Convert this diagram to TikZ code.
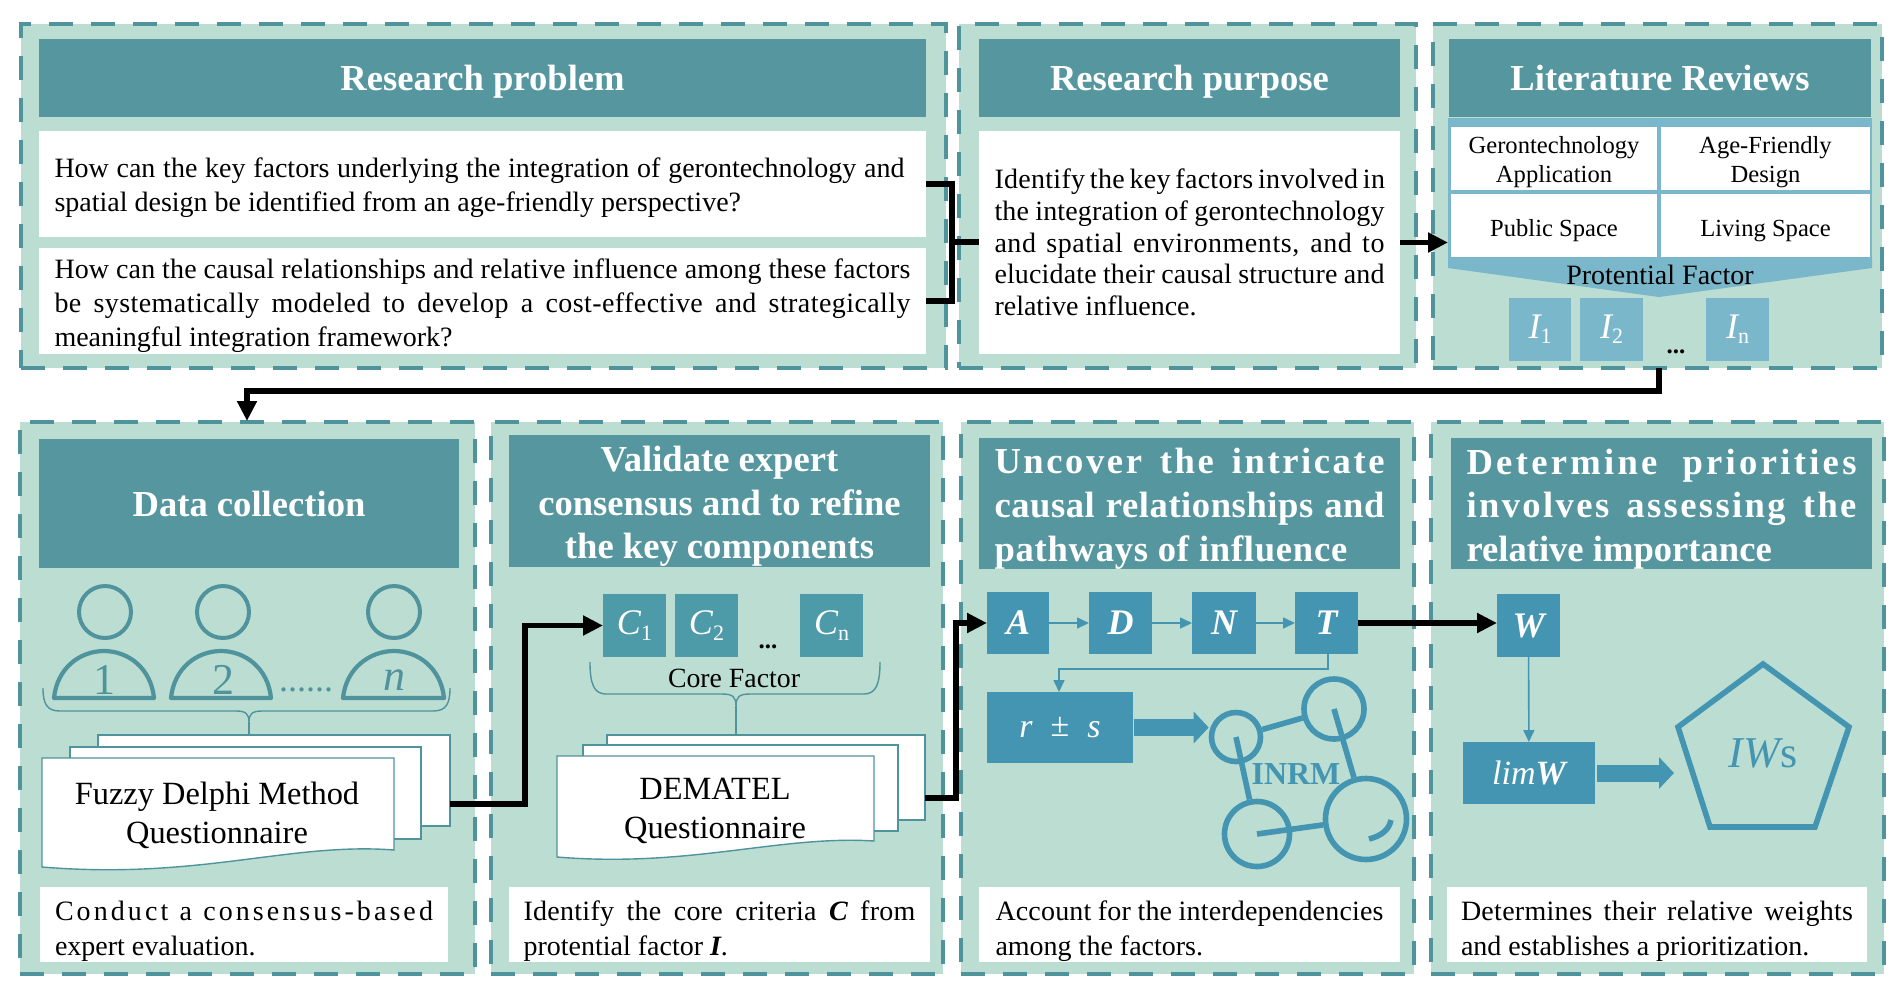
\documentclass[tikz,border=0pt]{standalone}
\usepackage{fontspec}
\setmainfont{Liberation Serif}
\usetikzlibrary{arrows.meta}
\definecolor{panelfill}{HTML}{BCDDD2}
\definecolor{teal1}{HTML}{55969F}
\definecolor{dashc}{HTML}{4F939C}
\definecolor{cbox}{HTML}{4D9AA8}
\definecolor{blue1}{HTML}{4495B1}
\definecolor{lblue}{HTML}{7AB7CA}
\newcommand\boxat[7][]{\node[inner sep=0pt,outer sep=0pt,minimum width={(#5-#3)*.5pt},minimum height={(#6-#4)*.5pt},#1] (#2) at ({(#3+#5)/2},{(#4+#6)/2}) {#7};}
\newcommand\jl[2]{\makebox[#1pt][s]{#2}}
\newcommand\ls[2]{{\addfontfeature{LetterSpace=#1}#2}}
\newcommand\up[1]{\rule{0pt}{#1pt}}
\newcommand\subt[2]{{\itshape #1}\raisebox{-.32ex}{\fontsize{11}{11}\selectfont #2}}
\tikzset{
  panel/.style={fill=panelfill,draw=dashc,line width=2.1pt,dash pattern=on 12pt off 9pt},
  head/.style={fill=teal1,text=white,align=center,font=\fontsize{18.3}{21.8}\selectfont\bfseries},
  bodybox/.style={fill=white,text=black,align=left,font=\fontsize{14}{17}\selectfont},
  gridcell/.style={fill=white,text=black,align=center,font=\fontsize{12.3}{14.5}\selectfont},
  cfac/.style={fill=cbox,text=white,font=\fontsize{18}{20}\selectfont},
  ifac/.style={fill=lblue,text=white,font=\fontsize{18}{20}\selectfont},
  mbox/.style={fill=blue1,text=white,font=\fontsize{18}{20}\selectfont\bfseries\itshape},
  flow/.style={draw=black,line width=2.8pt,-{Triangle[length=10pt,width=9.5pt]}},
  flowplain/.style={draw=black,line width=2.8pt},
  thinar/.style={draw=blue1,line width=.8pt,-{Triangle[length=6pt,width=5.5pt]}},
  blockar/.style={draw=blue1,line width=8.5pt,-{Triangle[length=7.5pt,width=15.5pt]}},
  person/.style={draw=dashc,line width=2pt,circle,minimum size=26pt,inner sep=0pt},
  dome/.style={draw=dashc,line width=2.1pt,line join=round},
  brace/.style={draw=dashc,line width=.7pt},
  sheet/.style={fill=white,draw=dashc,line width=.7pt},
  netc/.style={draw=blue1,line width=2.8pt,circle,inner sep=0pt},
  netl/.style={draw=blue1,line width=2.8pt},
  doctext/.style={font=\fontsize{16.2}{19.5}\selectfont,align=center,text=black},
  plain/.style={inner sep=0pt,text=black},
}
\begin{document}
\begin{tikzpicture}[x=.5pt,y=-.5pt]
\useasboundingbox (0,0) rectangle (1902,992);
% panels
\boxat[panel]{pa}{21}{24}{946}{368}{}
\boxat[panel]{pb}{959}{24}{1416}{368}{}
\boxat[panel]{pc}{1433}{24}{1882}{368}{}
\boxat[panel]{pd}{20}{422}{475}{974}{}
\boxat[panel]{pe}{491}{422}{943}{974}{}
\boxat[panel]{pf}{961}{422}{1414}{974}{}
\boxat[panel]{pg}{1431}{422}{1884}{974}{}
% headers
\boxat[head,text depth=0pt]{ha}{39}{39}{926}{117}{Research problem}
\boxat[head,text depth=0pt]{hb}{979}{39}{1400}{117}{Research purpose}
\boxat[head,text depth=0pt]{hc}{1449}{39}{1871}{117}{Literature Reviews}
\boxat[head]{hd}{39}{439}{459}{568}{Data collection}
\boxat[head]{he}{509}{437}{930}{565}{\up{18}Validate expert\\consensus and to refine\\the key components}
\boxat[head,align=left]{hf}{979}{439}{1400}{568}{\up{18}\jl{195}{\ls{7}{Uncover the intricate}}\\\jl{195}{\ls{1.5}{causal relationships and}}\\\ls{2}{pathways of influence}}
\boxat[head,align=left]{hg}{1451}{439}{1872}{568}{\up{18}\jl{195}{\ls{9}{Determine priorities}}\\\jl{195}{\ls{6.5}{involves assessing the}}\\relative importance}
% top white boxes
\boxat[bodybox]{qa}{39}{131}{926}{237}{\up{13.2}\jl{425}{How can the key factors underlying the integration of gerontechnology and}\hspace*{3pt}\\spatial design be identified from an age-friendly perspective?}
\boxat[bodybox]{qb}{39}{248}{926}{354}{\up{14.3}\jl{428}{\ls{.5}{How can the causal relationships and relative influence among these factors}}\\\jl{428}{\ls{1.5}{be systematically modeled to develop a cost-effective and strategically}}\\meaningful integration framework?}
\boxat[bodybox,font=\fontsize{14}{15.8}\selectfont]{pur}{979}{131}{1400}{354}{\jl{195}{\ls{1}{Identify the key factors involved in}}\\\jl{195}{\ls{.5}{the integration of gerontechnology}}\\\jl{195}{\ls{2}{and spatial environments, and to}}\\\jl{195}{\ls{.5}{elucidate their causal structure and}}\\relative influence.}
% literature grid
\boxat[fill=lblue]{grid}{1448}{118}{1872}{258}{}
\boxat[gridcell]{g1}{1451}{127}{1657}{190}{\up{12}Gerontechnology\\Application}
\boxat[gridcell]{g2}{1661}{127}{1870}{190}{\up{12}Age-Friendly\\Design}
\boxat[gridcell]{g3}{1451}{194}{1657}{257}{\up{13.2}Public Space}
\boxat[gridcell]{g4}{1661}{194}{1870}{257}{\up{13.2}Living Space}
\fill[lblue] (1448,258) -- (1872,258) -- (1872,268) -- (1659,297) -- (1448,268) -- cycle;
\node[plain,font=\fontsize{14}{16}\selectfont] (pf1) at (1660,275) {Protential Factor};
\boxat[ifac]{i1}{1509}{298}{1571}{361}{\subt{I}{1}}
\boxat[ifac]{i2}{1580}{298}{1643}{361}{\subt{I}{2}}
\boxat[ifac]{in}{1706}{298}{1769}{361}{\subt{I}{n}}
\node[plain,font=\fontsize{12.5}{14}\selectfont\bfseries] (idots) at (1676,352) {...};
% people
\node[person] (pe1) at (105,612) {};
\node[person] (pe2) at (223,612) {};
\node[person] (pen) at (394,612) {};
\draw[dome] (54,698) .. controls (57,668) and (80,651) .. (104,651) .. controls (128,651) and (151,668) .. (154,698) -- cycle;
\draw[dome] (171,698) .. controls (174,668) and (197,651) .. (221,651) .. controls (245,651) and (268,668) .. (271,698) -- cycle;
\draw[dome] (343,698) .. controls (346,668) and (370,651) .. (394,651) .. controls (418,651) and (441,668) .. (444,698) -- cycle;
\node[plain,text=dashc,font=\fontsize{22}{22}\selectfont] (nu1) at (104,680) {1};
\node[plain,text=dashc,font=\fontsize{22}{22}\selectfont] (nu2) at (223,680) {2};
\node[plain,text=dashc,font=\fontsize{22}{22}\selectfont\itshape] (nun) at (394,680) {n};
\node[plain,text=dashc,font=\fontsize{18}{18}\selectfont] (pdots) at (306,690) {......};
\draw[brace] (43,688) .. controls (43,704) and (47,711) .. (60,711) -- (236,711) .. controls (246,711) and (249,714) .. (249,722) .. controls (249,714) and (252,711) .. (262,711) -- (433,711) .. controls (446,711) and (450,704) .. (450,688);
% docs 1
\draw[sheet] (98,735) rectangle (450,826);
\draw[sheet] (70,747) rectangle (421,839);
\draw[sheet] (42,758) -- (394,758) -- (394,850) .. controls (290,842) and (200,880) .. (42,867) -- cycle;
\coordinate (da) at (450,804);
\draw[brace] (249,722) -- (249,735);
\node[doctext] (dta) at (217,815.5) {Fuzzy Delphi Method\\Questionnaire};
\boxat[bodybox,font=\fontsize{14}{17.5}\selectfont]{ba}{40}{887}{448}{962}{\up{16.7}\jl{189}{\ls{11}{Conduct a consensus-based}}\\expert evaluation.}
% C panel
\boxat[cfac]{c1}{603}{594}{666}{657}{\subt{C}{1}}
\boxat[cfac]{c2}{675}{594}{738}{657}{\subt{C}{2}}
\boxat[cfac]{cn}{800}{594}{863}{657}{\subt{C}{n}}
\node[plain,font=\fontsize{12.5}{14}\selectfont\bfseries] (cdots) at (768,647) {...};
\node[plain,font=\fontsize{13.9}{16}\selectfont] (cf) at (734,678) {Core Factor};
\draw[brace] (590,662) .. controls (590,684) and (594,694) .. (606,694) -- (722,694) .. controls (733,694) and (736,697) .. (736,706) .. controls (736,697) and (739,694) .. (750,694) -- (864,694) .. controls (876,694) and (880,684) .. (880,662);
\draw[brace] (736,706) -- (736,735);
\draw[sheet] (607,735) rectangle (925,820);
\draw[sheet] (583,745) rectangle (898,831);
\draw[sheet] (557,756) -- (874,756) -- (874,841) .. controls (780,835) and (690,868) .. (557,857) -- cycle;
\coordinate (db) at (925,798);
\node[doctext] (dtb) at (715,810.5) {DEMATEL\\Questionnaire};
\boxat[bodybox,font=\fontsize{14}{17.5}\selectfont]{be}{509}{887}{930}{962}{\up{16.7}\jl{196}{\ls{1}{Identify the core criteria {\bfseries\itshape C} from}}\\protential factor {\bfseries\itshape I}.}
% ANP flow
\boxat[mbox]{ma}{987}{592}{1049}{654}{A}
\boxat[mbox]{md}{1089}{592}{1152}{654}{D}
\boxat[mbox]{mn}{1192}{592}{1256}{654}{N}
\boxat[mbox]{mt}{1295}{592}{1358}{654}{T}
\draw[thinar] (ma) -- (md);
\draw[thinar] (md) -- (mn);
\draw[thinar] (mn) -- (mt);
\boxat[fill=blue1,text=white,font=\fontsize{17}{18}\selectfont]{rs}{987}{692}{1133}{763}{{\itshape r}\hspace{9pt}\raisebox{.1ex}{±}\hspace{9pt}{\itshape s}}
\coordinate (tb) at (1328,654);
\coordinate (rt) at (1059,692);
\draw[thinar] (tb) -- (1328,669) -| (rt);
\node[netc,minimum size=24.5pt] (n1) at (1236,737) {};
\node[netc,minimum size=30pt] (n2) at (1334,709) {};
\node[netc,minimum size=32.5pt] (n3) at (1257,834) {};
\node[netc,minimum size=40.5pt] (n4) at (1366,819) {};
\draw[netl] (n1) -- (n2);
\draw[netl] (n1.center) -- (n3);
\draw[netl] (n2.center) -- (n4);
\draw[netl] (n3.center) -- (n4);
\draw[netl] (1369,839) .. controls (1381,836) and (1389,830) .. (1391,820);
\node[plain,text=blue1,font=\fontsize{16}{18}\selectfont\bfseries] (inrm) at (1296,774) {INRM};
\draw[blockar,shorten <=.5pt] (rs.east) -- (rs.east -| n1.west);
\boxat[bodybox,font=\fontsize{14}{17.5}\selectfont]{bf}{979}{887}{1400}{962}{\up{16.7}\jl{194}{\ls{.6}{Account for the interdependencies}}\\among the factors.}
% W panel
\boxat[mbox]{mw}{1497}{594}{1560}{657}{W}
\boxat[fill=blue1,text=white,font=\fontsize{17}{18}\selectfont]{lim}{1463}{742}{1595}{804}{{\itshape lim}{\bfseries\itshape W}}
\draw[thinar] (mw) -- (lim);
\draw[draw=blue1,line width=2.8pt,line join=miter] (1763,664) -- (1849,727) -- (1815,827) -- (1710,827) -- (1678,727) -- cycle;
\coordinate (pl) at (1674,773);
\draw[blockar,shorten <=1pt] (lim.east) -- (pl);
\node[plain,text=blue1,font=\fontsize{22}{24}\selectfont] (iw) at (1763,753) {{\itshape IW}s};
\boxat[bodybox,font=\fontsize{14}{17.5}\selectfont]{bg}{1447}{887}{1867}{962}{\up{16.7}\jl{196}{\ls{1}{Determines their relative weights}}\\and establishes a prioritization.}
% thick connectors
\coordinate (jn) at (952,242);
\draw[flowplain] (qa.east) -| (jn);
\draw[flowplain] (qb.east) -| (jn);
\draw[flowplain] (jn) -- (jn -| pur.west);
\draw[flow] (pur.east) -- (pur.east -| grid.west);
\coordinate (lo) at (1659,368);
\coordinate (hb1) at (1659,391);
\draw[flow] (lo) -- (hb1) -| (247,421);
\draw[flow] (da) -- (525,804) |- (c1.west);
\draw[flow] (db) -- (956,798) |- (ma.west);
\draw[flow] (mt.east) -- (mt.east -| mw.west);
\end{tikzpicture}
\end{document}
